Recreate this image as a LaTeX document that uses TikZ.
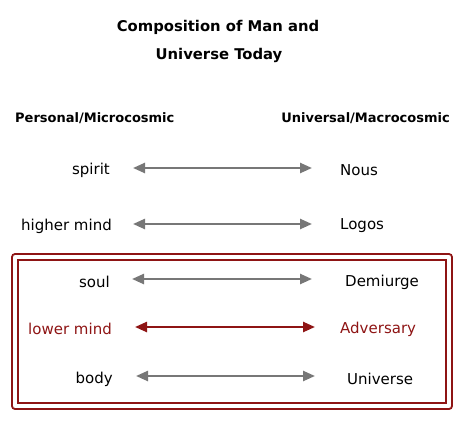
\documentclass[tikz,border=0pt]{standalone}
\usepackage{fontspec}
\setmainfont{DejaVu Sans}
\usetikzlibrary{arrows.meta}
\definecolor{darkred}{HTML}{8E1414}
\definecolor{arrowgray}{HTML}{777777}
\begin{document}
\begin{tikzpicture}[x=1pt, y=-1pt, font=\fontsize{15}{18}\selectfont]
	\useasboundingbox (0,0) rectangle (464,421);
	\tikzset{
		heading/.style={font=\fontsize{13}{16}\selectfont\bfseries, inner sep=0pt},
		titletext/.style={font=\fontsize{14.8}{18}\selectfont\bfseries, inner sep=0pt},
		lefttext/.style={anchor=east, inner sep=0pt},
		righttext/.style={anchor=west, inner sep=0pt},
		link/.style={{Triangle[length=12pt,width=10pt]}-{Triangle[length=12pt,width=10pt]}, line width=2.4pt, arrowgray},
		frame/.style={draw=darkred, line width=1.8pt}
	}
	% title
	\node[titletext] (title1) at (218, 27) {Composition of Man and};
	\node[titletext] (title2) at (219, 55) {Universe Today};
	\node[heading, anchor=west] (micro) at (15, 118) {Personal/Microcosmic};
	\node[heading, anchor=east] (macro) at (450, 118) {Universal/Macrocosmic};
	% rows
	\node[lefttext] (spirit) at (110, 170) {spirit};
	\node[righttext] (nous) at (340, 170) {Nous};
	\node[lefttext] (higher) at (112, 226) {higher mind};
	\node[righttext] (logos) at (340, 226) {Logos};
	\node[lefttext] (soul) at (110, 282) {soul};
	\node[righttext] (demiurge) at (345, 282) {Demiurge};
	\node[lefttext, text=darkred] (lower) at (112, 329) {lower mind};
	\node[righttext, text=darkred] (adversary) at (340, 329) {Adversary};
	\node[lefttext] (body) at (113, 379) {body};
	\node[righttext] (universe) at (347, 379) {Universe};
	% arrow ends
	\coordinate (s1) at (133, 168); \coordinate (e1) at (312, 168);
	\coordinate (s2) at (133, 224); \coordinate (e2) at (312, 224);
	\coordinate (s3) at (132, 279); \coordinate (e3) at (312, 279);
	\coordinate (s4) at (135, 327); \coordinate (e4) at (315, 327);
	\coordinate (s5) at (136, 376); \coordinate (e5) at (315, 376);
	\draw[link] (s1) -- (e1);
	\draw[link] (s2) -- (e2);
	\draw[link] (s3) -- (e3);
	\draw[link, darkred] (s4) -- (e4);
	\draw[link] (s5) -- (e5);
	% box
	\draw[frame, rounded corners=3pt] (12, 254) rectangle (452, 409);
	\draw[frame] (18, 260) rectangle (446, 403);
\end{tikzpicture}
\end{document}
